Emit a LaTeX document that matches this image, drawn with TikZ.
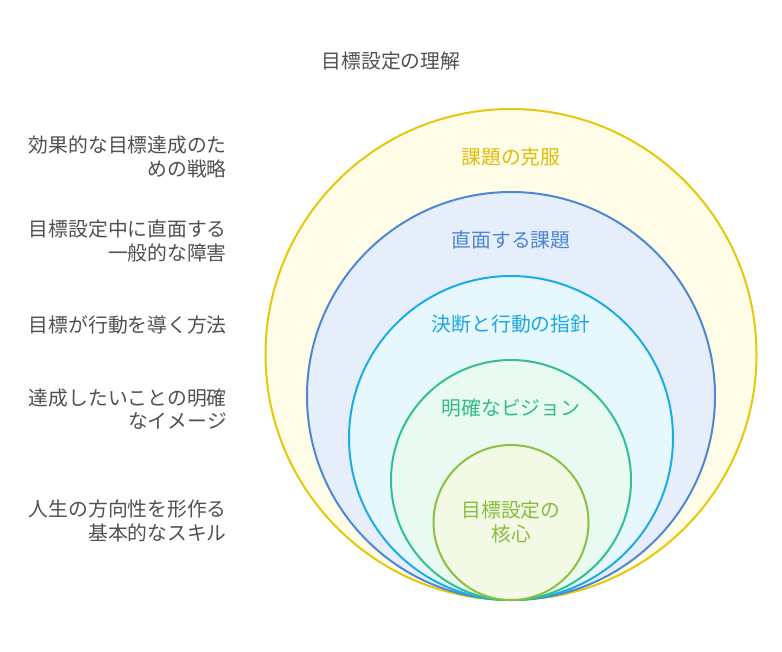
\documentclass[tikz,border=0pt]{standalone}
\usepackage{fontspec}
\newfontfamily\jp{Noto Sans CJK JP}
\definecolor{ystroke}{RGB}{230,200,10}
\definecolor{yfill}{RGB}{255,252,232}
\definecolor{ytext}{RGB}{222,190,10}
\definecolor{bstroke}{RGB}{78,136,208}
\definecolor{bfill}{RGB}{230,238,252}
\definecolor{btext}{RGB}{74,134,210}
\definecolor{cstroke}{RGB}{28,172,228}
\definecolor{cfill}{RGB}{230,247,253}
\definecolor{ctext}{RGB}{30,168,222}
\definecolor{gstroke}{RGB}{52,192,140}
\definecolor{gfill}{RGB}{232,250,242}
\definecolor{gtext}{RGB}{50,188,136}
\definecolor{lstroke}{RGB}{140,192,64}
\definecolor{lfill}{RGB}{242,250,230}
\definecolor{ltext}{RGB}{136,188,60}
\definecolor{labtext}{RGB}{80,80,80}
\begin{document}
\begin{tikzpicture}[x=1pt,y=-1pt,
  ring/.style={circle,line width=2pt,inner sep=0pt},
  side/.style={font=\jp\fontsize{19.8}{23.5}\selectfont,text=labtext,align=right,anchor=east,inner sep=0pt},
  ctxt/.style={font=\jp\fontsize{19.8}{23.5}\selectfont,align=center,inner sep=0pt}]
\useasboundingbox (0,0) rectangle (782,651);
\node[ring,draw=ystroke,fill=yfill,minimum size=491pt] (c1) at (511,354.5) {};
\node[ring,draw=bstroke,fill=bfill,minimum size=408pt] (c2) at (511,396) {};
\node[ring,draw=cstroke,fill=cfill,minimum size=324pt] (c3) at (511,438) {};
\node[ring,draw=gstroke,fill=gfill,minimum size=240pt] (c4) at (511,480) {};
\node[ring,draw=lstroke,fill=lfill,minimum size=155pt] (c5) at (511,522.5) {};
\node[ctxt,text=labtext] (title) at (391,61) {目標設定の理解};
\node[ctxt,text=ytext] (t1) at (511,157) {課題の克服};
\node[ctxt,text=btext] (t2) at (511,240) {直面する課題};
\node[ctxt,text=ctext] (t3) at (511,324) {決断と行動の指針};
\node[ctxt,text=gtext] (t4) at (511,408) {明確なビジョン};
\node[ctxt,text=ltext] (t5) at (511,522) {目標設定の\\核心};
\node[side] (s1) at (227,157) {効果的な目標達成のた\\めの戦略};
\node[side] (s2) at (227,241) {目標設定中に直面する\\一般的な障害};
\node[side] (s3) at (227,325) {目標が行動を導く方法};
\node[side] (s4) at (227,409) {達成したいことの明確\\なイメージ};
\node[side] (s5) at (227,521) {人生の方向性を形作る\\基本的なスキル};
\end{tikzpicture}
\end{document}
